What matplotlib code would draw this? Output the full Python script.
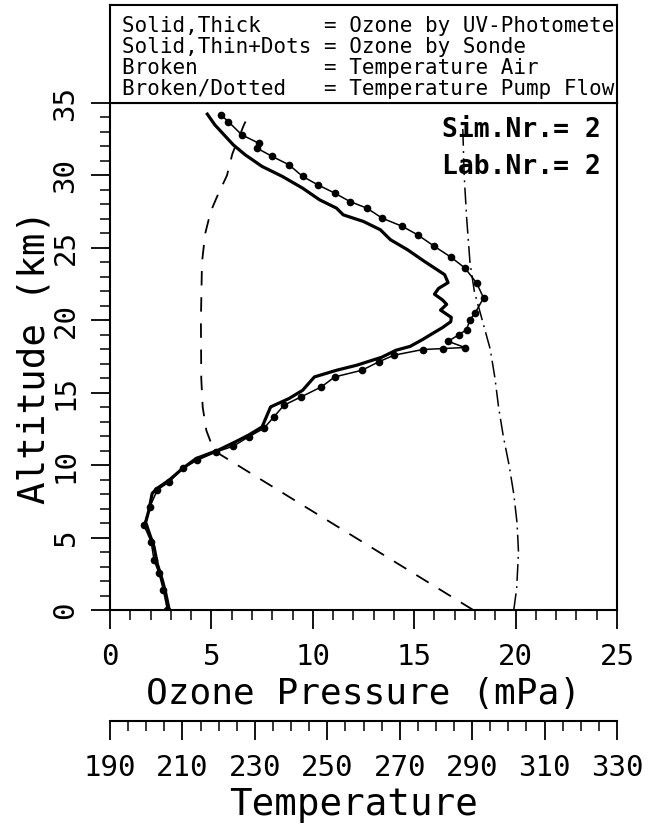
import matplotlib.pyplot as plt
from matplotlib.ticker import MultipleLocator

# ozone by UV-photometer (thick line)
uv_alt = [0, 1.15, 2.07, 3.2, 4.37, 5.06, 5.75, 6.0, 6.9, 8.05, 8.4, 8.97, 9.77, 10.46,
          11.03, 11.6, 12.07, 12.64, 13.3, 14.02, 14.6, 15.17, 16.09, 16.55, 16.9, 17.45,
          17.93, 18.2, 18.66, 19.0, 19.5, 19.9, 20.2, 20.7, 21.1, 21.4, 21.8, 22.2, 22.6,
          23.15, 24.07, 24.87, 25.56, 26.25, 26.82, 27.28, 27.74, 28.32, 29.12, 29.93,
          30.62, 31.42, 32.11, 33.49, 34.23]
uv_o3 = [2.92, 2.75, 2.58, 2.33, 2.17, 2.0, 1.83, 1.75, 1.92, 2.08, 2.33, 2.92, 3.58, 4.25,
         5.33, 6.17, 6.83, 7.5, 7.7, 7.92, 8.83, 9.5, 10.08, 11.17, 12.17, 13.4,
         14.1, 14.8, 15.4, 15.8, 16.4, 16.8, 16.83, 16.3, 16.6, 16.4, 16.0, 16.2, 16.67,
         16.5, 15.5, 14.67, 13.83, 13.33, 12.5, 11.5, 11.17, 10.33, 9.5, 8.5,
         7.5, 6.67, 6.08, 5.17, 4.8]

# ozone by sonde (thin line with dots)
sonde_alt = [0, 1.38, 2.53, 3.45, 4.71, 5.86, 7.13, 8.28, 8.85, 9.77, 10.34, 10.92, 11.31,
             11.95, 12.53, 13.33, 14.14, 14.71, 15.4, 16.09, 16.55, 17.13, 17.59, 17.98,
             18.05, 18.12, 18.55, 19.0, 19.35, 20.04, 20.5, 21.54, 22.57, 23.61, 24.34,
             25.1, 25.9, 26.48, 27.05, 27.74, 28.2, 28.78, 29.35, 29.93, 30.73, 31.31,
             31.88, 32.23, 32.8, 33.72, 34.18]
sonde_o3 = [2.83, 2.63, 2.42, 2.17, 2.03, 1.67, 1.97, 2.33, 2.92, 3.58, 4.3, 5.25, 6.08,
            6.83, 7.58, 8.08, 8.58, 9.42, 10.42, 11.08, 12.42, 13.25, 14.0, 15.42,
            16.42, 17.5, 16.67, 17.2, 17.58, 17.75, 18.0, 18.42, 18.08, 17.5, 16.83,
            16.0, 15.17, 14.42, 13.42, 12.67, 11.83, 11.08, 10.25, 9.5, 8.83, 8.0,
            7.25, 7.33, 6.5, 5.83, 5.47]

# air temperature (broken)
air_alt = [0, 11.0, 12.4, 14.0, 16.0, 20.0, 24.0, 26.0, 27.5, 28.5, 30.0, 31.5, 33.5, 34.4]
air_temp = [290.3, 218.7, 216.6, 215.6, 215.2, 215.1, 215.4, 216.3, 217.8, 219.5, 222.3,
            223.8, 227.0, 228.8]

# pump flow temperature (broken/dotted)
pump_alt = [0, 1.5, 4.0, 6.0, 8.0, 10.0, 12.0, 14.0, 16.0, 18.0, 20.0, 22.0, 24.0, 27.0,
            30.0, 33.4]
pump_temp = [301.5, 302.3, 302.8, 302.4, 301.5, 300.2, 298.6, 297.3, 296.3, 295.0, 292.8,
             290.6, 289.4, 288.5, 287.8, 287.4]

ozone_ticks = [0, 5, 10, 15, 20, 25]
alt_ticks = [0, 5, 10, 15, 20, 25, 30, 35]
temp_ticks = [190, 210, 230, 250, 270, 290, 310, 330]

legend_rows = ['Solid,Thick     = Ozone by UV-Photometer',
               'Solid,Thin+Dots = Ozone by Sonde',
               'Broken          = Temperature Air',
               'Broken/Dotted   = Temperature Pump Flow']
info_rows = ['Sim.Nr.= 2', 'Lab.Nr.= 2']

W, H = 648, 826
MONO = 'DejaVu Sans Mono'
plt.rcParams['font.family'] = MONO


def box(x0, y0, x1, y1):
    # pixel box (top-left origin) -> figure fractions
    return [x0 / W, 1 - y1 / H, (x1 - x0) / W, (y1 - y0) / H]


fig = plt.figure(figsize=(W / 100, H / 100), dpi=100)
ax = fig.add_axes(box(110, 103, 617, 610))

ax.plot(uv_o3, uv_alt, color='k', lw=2.3, solid_joinstyle='round', zorder=3)
ax.plot(sonde_o3, sonde_alt, color='k', lw=1.1, marker='o', ms=4.5, zorder=3)

ax.set_xlim(0, 25)
ax.set_ylim(0, 35)
ax.set_xticks(ozone_ticks)
ax.set_xticklabels([str(t) for t in ozone_ticks])
ax.set_yticks(alt_ticks)
ax.set_yticklabels([str(t) for t in alt_ticks], rotation=90, va='center')
ax.xaxis.set_minor_locator(MultipleLocator(1))
ax.yaxis.set_minor_locator(MultipleLocator(1))
ax.tick_params(which='major', direction='out', length=14, width=1.3, labelsize=21)
ax.tick_params(axis='x', which='major', pad=10)
ax.tick_params(axis='y', which='major', pad=8)
ax.tick_params(which='minor', direction='out', length=7, width=1.1)
ax.tick_params(which='both', top=False, right=False)
for s in ax.spines.values():
    s.set_linewidth(1.5)

ax.set_xlabel('Ozone Pressure (mPa)', fontsize=26, va='center')
ax.xaxis.set_label_coords(0.5, (610 - 694) / 507)
ax.set_ylabel('Altitude (km)', fontsize=27, va='center')
ax.yaxis.set_label_coords((35 - 110) / 507, 0.5)

for i, row in enumerate(info_rows):
    ax.text(0.655, 0.947 - 0.073 * i, row, transform=ax.transAxes, fontsize=19,
            fontweight='bold', va='center', ha='left', zorder=1)

# temperatures share the altitude axis
ax_t = ax.twiny()
ax_t.set_xlim(temp_ticks[0], temp_ticks[-1])
ax_t.plot(air_temp, air_alt, color='k', lw=1.3, dashes=(8, 6.5))
ax_t.plot(pump_temp, pump_alt, color='k', lw=1.1, dashes=(11, 3.5, 1.2, 3.5))
ax_t.axis('off')

# temperature scale below
ax_s = fig.add_axes(box(110, 721, 617, 721.01))
ax_s.set_xlim(temp_ticks[0], temp_ticks[-1])
ax_s.set_xticks(temp_ticks)
ax_s.set_xticklabels([str(t) for t in temp_ticks])
ax_s.xaxis.set_minor_locator(MultipleLocator(5))
ax_s.set_yticks([])
for side in ['top', 'left', 'right']:
    ax_s.spines[side].set_visible(False)
ax_s.spines['bottom'].set_linewidth(1.5)
ax_s.tick_params(which='major', direction='out', length=14, width=1.3, labelsize=21, pad=10)
ax_s.tick_params(which='minor', direction='out', length=7, width=1.1)
ax_s.set_xlabel('Temperature', fontsize=27, va='center')
ax_s.xaxis.set_label_coords(0.48, -84 / 0.01)
ax_s.patch.set_visible(False)

# legend box on top
ax_l = fig.add_axes(box(110, 5, 617, 103))
ax_l.set_xticks([])
ax_l.set_yticks([])
for s in ax_l.spines.values():
    s.set_linewidth(1.5)
for i, row in enumerate(legend_rows):
    ax_l.text(12 / 507, (103 - 21 - 21 * i - 5) / 98, row, transform=ax_l.transAxes,
              fontsize=15, va='center', ha='left', clip_on=True)

fig.savefig('out.png', dpi=100)
